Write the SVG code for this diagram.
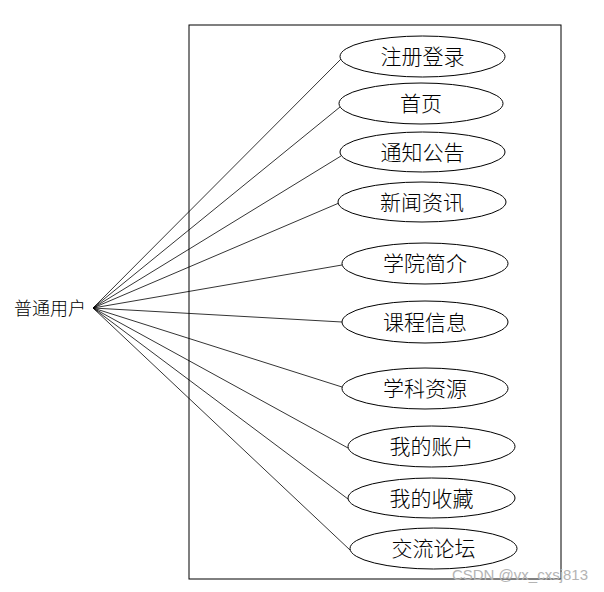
<svg xmlns="http://www.w3.org/2000/svg" width="604" height="592" viewBox="0 0 604 592">
<style>
.uc ellipse{fill:#fff;stroke:#000;stroke-width:1}
.uc text{font-family:"Noto Sans CJK SC","Liberation Serif",serif;font-size:21px;font-weight:300;text-anchor:middle;fill:#000}
.conn line{stroke:#000;stroke-width:0.8}
</style>
<rect width="604" height="592" fill="#fff"/>
<rect id="system" x="189" y="25" width="372" height="554" fill="none" stroke="#000" stroke-width="1"/>
<g id="connectors" class="conn">
<line x1="93" y1="308" x2="341" y2="59"/>
<line x1="93" y1="308" x2="340" y2="107"/>
<line x1="93" y1="308" x2="341" y2="156"/>
<line x1="93" y1="308" x2="339" y2="203"/>
<line x1="93" y1="308" x2="342" y2="265"/>
<line x1="93" y1="308" x2="342" y2="322"/>
<line x1="93" y1="308" x2="342" y2="387"/>
<line x1="93" y1="308" x2="348" y2="448"/>
<line x1="93" y1="308" x2="348" y2="499"/>
<line x1="93" y1="308" x2="350" y2="550"/>
</g>
<g id="actor">
<text x="50" y="315" font-family="Noto Sans CJK SC, Liberation Serif, serif" font-size="18" font-weight="300" text-anchor="middle">普通用户</text>
</g>
<g id="uc1" class="uc"><ellipse cx="422.5" cy="56.5" rx="82.5" ry="20.5"/><text x="422.5" y="64">注册登录</text></g>
<g id="uc2" class="uc"><ellipse cx="421" cy="103.5" rx="82" ry="20.5"/><text x="421" y="111">首页</text></g>
<g id="uc3" class="uc"><ellipse cx="422.5" cy="152" rx="82.5" ry="20"/><text x="422.5" y="159.5">通知公告</text></g>
<g id="uc4" class="uc"><ellipse cx="422" cy="202" rx="84" ry="20"/><text x="422" y="209.5">新闻资讯</text></g>
<g id="uc5" class="uc"><ellipse cx="425" cy="263.5" rx="83" ry="20.5"/><text x="425" y="271">学院简介</text></g>
<g id="uc6" class="uc"><ellipse cx="425" cy="322" rx="83" ry="21"/><text x="425" y="329.5">课程信息</text></g>
<g id="uc7" class="uc"><ellipse cx="425" cy="388.5" rx="83" ry="20.5"/><text x="425" y="396">学科资源</text></g>
<g id="uc8" class="uc"><ellipse cx="431.5" cy="446.5" rx="83.5" ry="20.5"/><text x="431.5" y="454">我的账户</text></g>
<g id="uc9" class="uc"><ellipse cx="431.5" cy="498" rx="83.5" ry="20"/><text x="431.5" y="505.5">我的收藏</text></g>
<g id="uc10" class="uc"><ellipse cx="433.5" cy="548.5" rx="83.5" ry="20.5"/><text x="433.5" y="556">交流论坛</text></g>
<text x="588" y="580" font-family="Liberation Sans, Arial, sans-serif" font-size="15" fill="#b4b4b4" text-anchor="end">CSDN @vx_cxsj813</text>
</svg>
